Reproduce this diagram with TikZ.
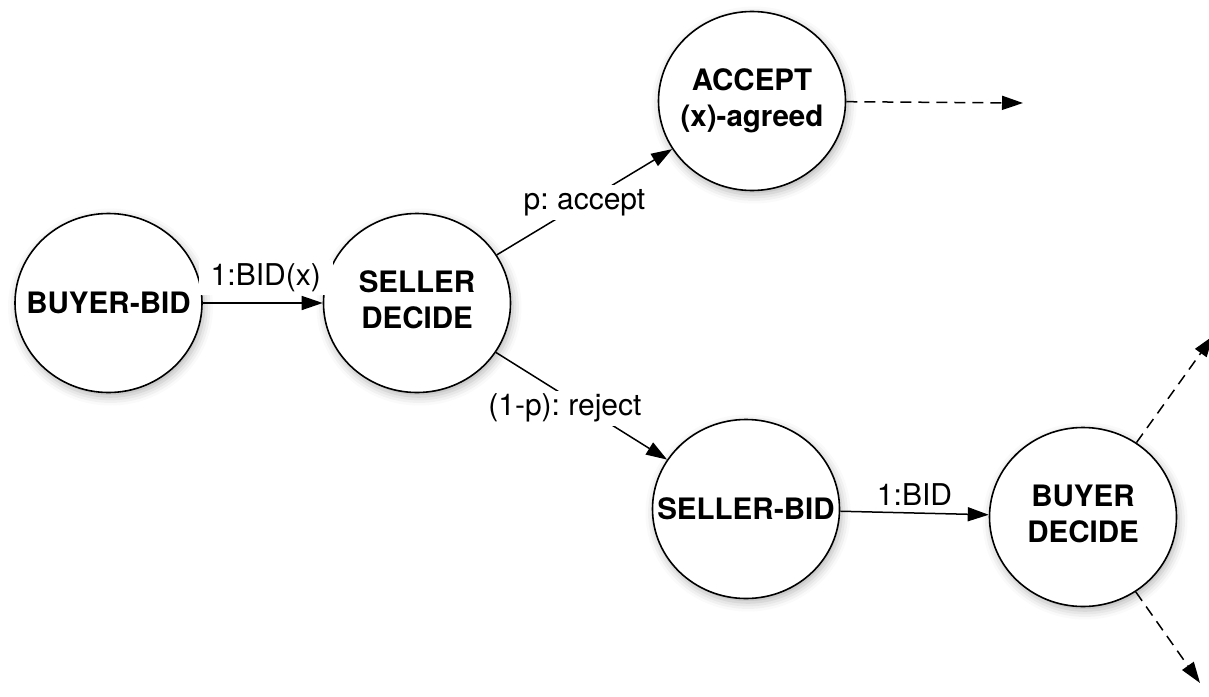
\documentclass[tikz,border=0pt]{standalone}
\usepackage{fontspec}
\setmainfont{TeX Gyre Heros}
\usetikzlibrary{arrows.meta,shapes.geometric,shadows.blur}
% zero-width boxes keep the state ellipses at their fixed size
\newcommand{\oneline}[1]{\makebox[0pt]{#1}}
\newcommand{\twolines}[2]{\makebox[0pt]{\begin{tabular}{@{}c@{}}#1\\#2\end{tabular}}}
\frenchspacing
\begin{document}
\begin{tikzpicture}[x=1pt,y=-1pt,
  state/.style={ellipse, draw=black, line width=1.6pt, fill=white,
    minimum width=187pt, minimum height=179pt, inner sep=0pt,
    font=\fontsize{29.5}{36}\selectfont\bfseries,
    blur shadow={shadow xshift=2pt, shadow yshift=-4pt,
      shadow blur radius=9pt, shadow opacity=30}},
  flow/.style={line width=1.5pt, -{Triangle[length=21pt,width=14pt]}},
  exitflow/.style={flow, dash pattern=on 11pt off 7pt},
  lbl/.style={font=\fontsize{30}{36}\selectfont, fill=white,
    inner xsep=6pt, inner ysep=4pt, text height=21pt, text depth=6pt}
]
\useasboundingbox (0,0) rectangle (1209,696);
\clip (0,0) rectangle (1209,696);

% states
\node[state] (bb) at (108.5,303) {\oneline{BUYER-BID}};
\node[state] (sd) at (417,303)   {\twolines{SELLER}{DECIDE}};
\node[state] (ac) at (752,101)   {\twolines{ACCEPT}{(x)-agreed}};
\node[state] (sb) at (746,509)   {\oneline{SELLER-BID}};
\node[state] (bd) at (1083,517)  {\twolines{BUYER}{DECIDE}};

% open ends of the outgoing dashed transitions
\coordinate (acout) at (1023,103);
\coordinate (bdup) at (1213,336);
\coordinate (bddown) at (1200,683);

% transitions
\draw[flow] (bb) -- node[lbl, above=7pt, inner xsep=12pt, xshift=3pt] {1:BID(x)} (sd);
\draw[flow] (sd) -- node[lbl] {p: accept} (ac);
\draw[flow] (sd) -- node[lbl, pos=0.52, xshift=-20pt] {(1-p): reject} (sb);
\draw[flow] (sb) -- node[lbl, above=4pt, inner ysep=3pt, text depth=0pt] {1:BID} (bd);

\draw[exitflow] (ac) -- (acout);
\draw[exitflow] (bd) -- (bdup);
\draw[exitflow] (bd) -- (bddown);
\end{tikzpicture}
\end{document}
